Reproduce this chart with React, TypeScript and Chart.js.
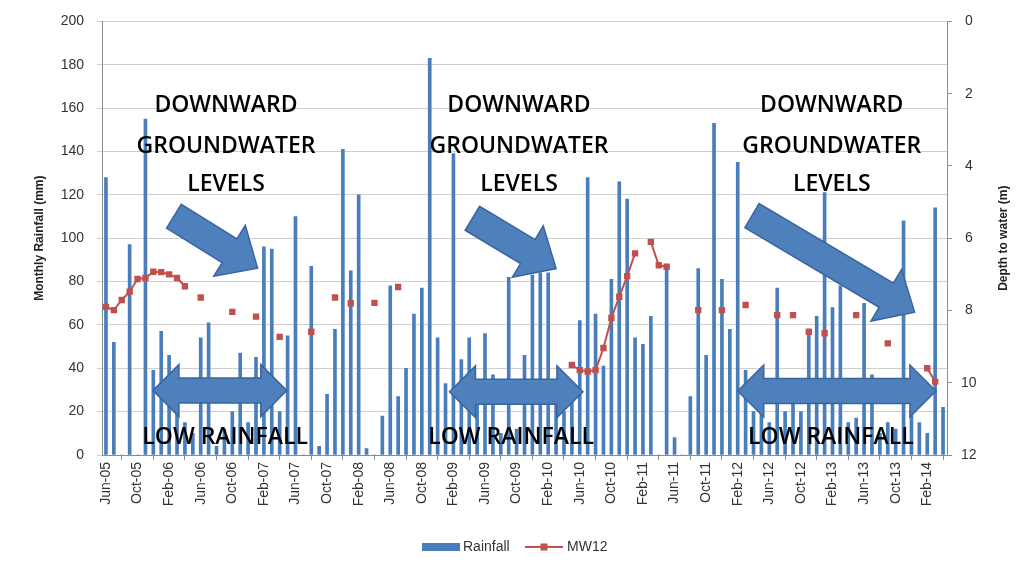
import React, { useEffect, useRef } from "react";
import { Chart, registerables } from "chart.js";

Chart.register(...registerables);

// ---------- DATA ----------
const MONTH_NAMES = ["Jan", "Feb", "Mar", "Apr", "May", "Jun", "Jul", "Aug", "Sep", "Oct", "Nov", "Dec"];
const FIRST_MONTH = 5; // June
const FIRST_YEAR = 2005;
const MONTH_COUNT = 107; // Jun-05 .. Apr-14

const months: string[] = [];
for (let i = 0; i < MONTH_COUNT; i++) {
  const m = (FIRST_MONTH + i) % 12;
  const y = FIRST_YEAR + Math.floor((FIRST_MONTH + i) / 12);
  months.push(`${MONTH_NAMES[m]}-${String(y % 100).padStart(2, "0")}`);
}

// Monthly rainfall (mm), Jun-05 .. Apr-14
const rainfall = [
  128, 52, 0, 97, 0, 155, 39, 57, 46, 28, 15, 10,
  54, 61, 4, 12, 20, 47, 15, 45, 96, 95, 20, 55,
  110, 0, 87, 4, 28, 58, 141, 85, 120, 3, 0, 18,
  78, 27, 40, 65, 77, 183, 54, 33, 139, 44, 54, 30,
  56, 37, 10, 82, 12, 46, 83, 84, 84, 30, 20, 25,
  62, 128, 65, 41, 81, 126, 118, 54, 51, 64, 0, 86,
  8, 0, 27, 86, 46, 153, 81, 58, 135, 39, 20, 30,
  15, 77, 20, 25, 20, 57, 64, 121, 68, 78, 15, 17,
  70, 37, 10, 15, 12, 108, 20, 15, 10, 114, 22,
];

// MW12 depth to water (m)
const mw12 = [
  7.9, 7.99, 7.71, 7.48, 7.13, 7.1, 6.93, 6.94, 7.0, 7.1, 7.33, null,
  7.64, null, null, null, 8.04, null, null, 8.17, null, null, 8.73, null,
  null, null, 8.59, null, null, 7.64, null, 7.8, null, null, 7.79, null,
  null, 7.35, null, null, null, null, null, null, null, null, null, null,
  null, null, null, null, null, null, null, null, null, null, null, 9.51,
  9.65, 9.69, 9.65, 9.04, 8.21, 7.62, 7.05, 6.42, null, 6.1, 6.75, 6.79,
  null, null, null, 7.99, null, null, 7.99, null, null, 7.85, null, null,
  null, 8.13, null, 8.13, null, 8.59, null, 8.63, null, null, null, 8.13,
  null, null, null, 8.91, null, null, null, null, 9.6, 9.97, null,
];

const leftTicks = { min: 0, max: 200, step: 20 };
const rightTicks = { min: 0, max: 12, step: 2 };

// Annotations (x in month index, y in mm)
const headingLines = ["DOWNWARD", "GROUNDWATER", "LEVELS"];
const headingX = [15.2, 52.3, 91.9];
const headingY = [161.3, 142.4, 124.9];
const lowRainText = "LOW RAINFALL";
const lowRainX = [15.1, 51.3, 91.8];
const lowRainY = 8.3;
// diagonal arrows: [tailX, tailY, tipX, tipY]
const diagArrows = [
  [8.6, 110.1, 19.2, 86.2],
  [46.4, 109.2, 57.0, 86.0],
  [81.8, 110.4, 102.4, 65.9],
];
// double arrows: [leftX, rightX, y]
const doubleArrows = [
  [5.95, 22.9, 29.7],
  [43.5, 60.4, 29.2],
  [80.0, 105.1, 29.5],
];

const FONT = '"Liberation Sans", Arial, sans-serif';
const BIG_FONT = '"Open Sans", "Liberation Sans", sans-serif';
const BAR_COLOR = "#4A7EBB";
const LINE_COLOR = "#C0504D";
const ARROW_FILL = "#4E80BC";
const ARROW_STROKE = "#3A64A0";

function drawDiagArrow(ctx: CanvasRenderingContext2D, x1: number, y1: number, x2: number, y2: number) {
  const shaft = 28, head = 60, headLen = 33;
  const dx = x2 - x1, dy = y2 - y1;
  const len = Math.hypot(dx, dy);
  const ux = dx / len, uy = dy / len;
  const nx = -uy, ny = ux;
  const bx = x2 - ux * headLen, by = y2 - uy * headLen;
  const pts = [
    [x1 + nx * shaft / 2, y1 + ny * shaft / 2],
    [bx + nx * shaft / 2, by + ny * shaft / 2],
    [bx + nx * head / 2, by + ny * head / 2],
    [x2, y2],
    [bx - nx * head / 2, by - ny * head / 2],
    [bx - nx * shaft / 2, by - ny * shaft / 2],
    [x1 - nx * shaft / 2, y1 - ny * shaft / 2],
  ];
  ctx.beginPath();
  pts.forEach((p, i) => (i ? ctx.lineTo(p[0], p[1]) : ctx.moveTo(p[0], p[1])));
  ctx.closePath();
  ctx.fillStyle = ARROW_FILL;
  ctx.fill();
  ctx.lineWidth = 1.5;
  ctx.strokeStyle = ARROW_STROKE;
  ctx.stroke();
}

function drawDoubleArrow(ctx: CanvasRenderingContext2D, lx: number, rx: number, y: number) {
  const sh = 12.5, hh = 26, hl = 26;
  const pts = [
    [lx, y],
    [lx + hl, y - hh],
    [lx + hl, y - sh],
    [rx - hl, y - sh],
    [rx - hl, y - hh],
    [rx, y],
    [rx - hl, y + hh],
    [rx - hl, y + sh],
    [lx + hl, y + sh],
    [lx + hl, y + hh],
  ];
  ctx.beginPath();
  pts.forEach((p, i) => (i ? ctx.lineTo(p[0], p[1]) : ctx.moveTo(p[0], p[1])));
  ctx.closePath();
  ctx.fillStyle = ARROW_FILL;
  ctx.fill();
  ctx.lineWidth = 1.5;
  ctx.strokeStyle = ARROW_STROKE;
  ctx.stroke();
}

const annotationPlugin = {
  id: "annotations",
  afterDatasetDraw(chart: any, args: any) {
    if (args.index !== 0) return;
    const ctx = chart.ctx as CanvasRenderingContext2D;
    const xs = chart.scales.x;
    const ys = chart.scales.y;
    ctx.save();
    diagArrows.forEach(([a, b, c, d]) =>
      drawDiagArrow(ctx, xs.getPixelForValue(a), ys.getPixelForValue(b), xs.getPixelForValue(c), ys.getPixelForValue(d))
    );
    doubleArrows.forEach(([l, r, y]) =>
      drawDoubleArrow(ctx, xs.getPixelForValue(l), xs.getPixelForValue(r), ys.getPixelForValue(y))
    );
    ctx.fillStyle = "#000";
    ctx.font = `600 23px ${BIG_FONT}`;
    ctx.textAlign = "center";
    ctx.textBaseline = "middle";
    headingX.forEach((hx) => {
      headingLines.forEach((line, j) => {
        ctx.fillText(line, xs.getPixelForValue(hx), ys.getPixelForValue(headingY[j]));
      });
    });
    lowRainX.forEach((lx) => {
      ctx.fillText(lowRainText, xs.getPixelForValue(lx), ys.getPixelForValue(lowRainY));
    });
    ctx.restore();
  },
  afterDraw(chart: any) {
    const ctx = chart.ctx as CanvasRenderingContext2D;
    const area = chart.chartArea;
    ctx.save();
    // right axis title (reads bottom to top)
    ctx.translate(1004, (area.top + area.bottom) / 2);
    ctx.rotate(-Math.PI / 2);
    ctx.font = `bold 12px ${FONT}`;
    ctx.fillStyle = "#222";
    ctx.textAlign = "center";
    ctx.textBaseline = "middle";
    ctx.fillText("Depth to water (m)", 0, 0);
    ctx.restore();

    // legend
    ctx.save();
    const ly = 547;
    const cx = chart.width / 2 + 4;
    ctx.font = `14px ${FONT}`;
    ctx.textBaseline = "middle";
    ctx.textAlign = "left";
    ctx.fillStyle = BAR_COLOR;
    ctx.fillRect(cx - 93, ly - 4, 38, 8);
    ctx.fillStyle = "#333";
    ctx.fillText("Rainfall", cx - 52, ly);
    ctx.strokeStyle = LINE_COLOR;
    ctx.lineWidth = 2;
    ctx.beginPath();
    ctx.moveTo(cx + 10, ly);
    ctx.lineTo(cx + 48, ly);
    ctx.stroke();
    ctx.fillStyle = LINE_COLOR;
    ctx.fillRect(cx + 25.5, ly - 3.5, 7, 7);
    ctx.fillStyle = "#333";
    ctx.fillText("MW12", cx + 52, ly);
    ctx.restore();
  },
};

export default function App() {
  const canvasRef = useRef<HTMLCanvasElement | null>(null);

  useEffect(() => {
    document.body.style.margin = "0";
    document.body.style.background = "#ffffff";
    const canvas = canvasRef.current;
    if (!canvas) return;
    const chart = new Chart(canvas, {
      type: "bar",
      data: {
        labels: months,
        datasets: [
          {
            type: "bar",
            label: "Rainfall",
            data: rainfall,
            backgroundColor: BAR_COLOR,
            barThickness: 3,
            yAxisID: "y",
            order: 1,
          },
          {
            type: "line",
            label: "MW12",
            data: mw12,
            borderColor: LINE_COLOR,
            backgroundColor: LINE_COLOR,
            borderWidth: 2,
            pointStyle: "rect",
            pointRadius: 4.5,
            pointBorderWidth: 0,
            spanGaps: false,
            yAxisID: "y1",
            order: 0,
          },
        ],
      } as any,
      options: {
        animation: false,
        responsive: false,
        maintainAspectRatio: false,
        layout: { padding: { top: 21, bottom: 43, left: 0, right: 0 } },
        plugins: {
          legend: { display: false },
          tooltip: { enabled: false },
        },
        scales: {
          x: {
            type: "category",
            offset: true,
            grid: { display: true, drawOnChartArea: false, tickLength: 5, color: "#8c8c8c" },
            border: { color: "#8c8c8c" },
            ticks: {
              autoSkip: false,
              minRotation: 90,
              maxRotation: 90,
              padding: 2,
              color: "#333",
              font: { family: FONT, size: 14 },
              callback: (_v: any, i: number) => (i % 4 === 0 ? months[i] : null),
            },
            afterFit: (s: any) => {
              s.height = 70;
            },
          },
          y: {
            position: "left",
            min: leftTicks.min,
            max: leftTicks.max,
            ticks: {
              stepSize: leftTicks.step,
              padding: 13,
              color: "#333",
              font: { family: FONT, size: 14 },
            },
            grid: { color: "#cfcfcf", tickLength: 5 },
            border: { color: "#8c8c8c" },
            title: {
              display: true,
              text: "Monthly Rainfall (mm)",
              color: "#222",
              font: { family: FONT, size: 12, weight: "bold" },
              padding: { top: 32, bottom: 0 },
            },
            afterFit: (s: any) => {
              s.width = 102;
            },
          },
          y1: {
            position: "right",
            reverse: true,
            min: rightTicks.min,
            max: rightTicks.max,
            ticks: {
              stepSize: rightTicks.step,
              padding: 9,
              crossAlign: "center",
              color: "#333",
              font: { family: FONT, size: 14 },
            },
            grid: { drawOnChartArea: false, tickLength: 5, color: "#8c8c8c" },
            border: { color: "#8c8c8c" },
            afterFit: (s: any) => {
              s.width = 75;
            },
          },
        },
      } as any,
      plugins: [annotationPlugin],
    });
    return () => chart.destroy();
  }, []);

  return (
    <div style={{ width: 1022, height: 568, background: "#fff" }}>
      <canvas ref={canvasRef} width={1022} height={568} style={{ display: "block" }} />
    </div>
  );
}
